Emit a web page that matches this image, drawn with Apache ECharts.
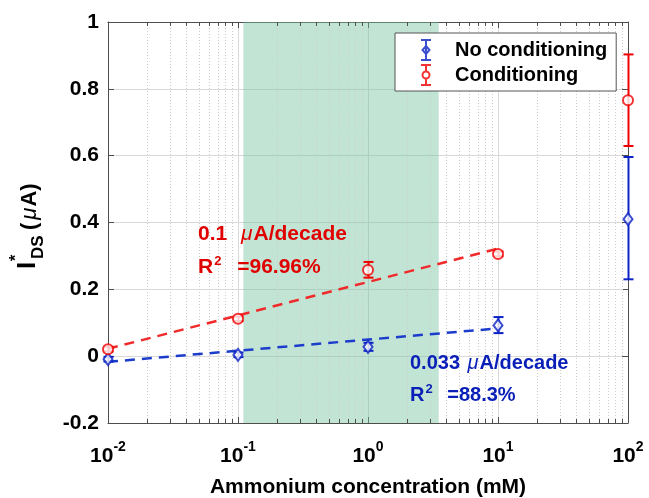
<!DOCTYPE html>
<html>
<head>
<meta charset="utf-8">
<script src="https://cdn.jsdelivr.net/npm/echarts@6/dist/echarts.min.js"></script>
<style>html,body{margin:0;padding:0;background:#fff}#c{width:649px;height:498px}</style>
</head>
<body>
<div id="c"></div>
<script>
// ---- data ----
const conc = [0.01, 0.1, 1, 10, 100];
const noCondMean = [-0.009, 0.004, 0.028, 0.092, 0.41];
const noCondLow  = [-0.016, -0.003, 0.016, 0.069, 0.23];
const noCondHigh = [-0.002, 0.011, 0.040, 0.117, 0.596];
const condMean = [0.021, 0.112, 0.258, 0.306, 0.766];
const condLow  = [0.014, 0.105, 0.235, 0.299, 0.629];
const condHigh = [0.028, 0.119, 0.282, 0.313, 0.903];
const fitX = [0.01, 10];
const condFit = [0.022, 0.322];
const noCondFit = [-0.017, 0.083];
const bandRange = [0.11, 3.5];
const minorX = [0.02,0.03,0.04,0.05,0.06,0.07,0.08,0.09,
                0.2,0.3,0.4,0.5,0.6,0.7,0.8,0.9,
                2,3,4,5,6,7,8,9,
                20,30,40,50,60,70,80,90];
const seriesNames = ['No conditioning', 'Conditioning'];
const condAnn = ['0.1 ', 'μ', 'A/decade', 'R', '2', ' =96.96%'];
const noCondAnn = ['0.033 ', 'μ', 'A/decade', 'R', '2', ' =88.3%'];
const yName = ['I', '*', 'DS', '(', 'μ', 'A)'];
const xName = 'Ammonium concentration (mM)';

const RED = '#f00000', BLUE = '#0b22c4';
const RED_T = '#e00000', BLUE_T = '#0a1fb8';
const AX = '#4d4d4d';
const FF = '"Liberation Sans", Arial, sans-serif';

const chart = echarts.init(document.getElementById('c'), null, {renderer: 'canvas'});

function errData(x, lo, hi) { return x.map((v, i) => [v, lo[i], hi[i]]); }
function errRender(color) {
  return function (params, api) {
    const p1 = api.coord([api.value(0), api.value(1)]);
    const p2 = api.coord([api.value(0), api.value(2)]);
    const x = Math.round(p1[0]) + 0.5;
    const st = {stroke: color, lineWidth: 2};
    return {type: 'group', children: [
      {type: 'line', shape: {x1: x, y1: p1[1], x2: x, y2: p2[1]}, style: st},
      {type: 'line', shape: {x1: x - 5, y1: p1[1], x2: x + 5, y2: p1[1]}, style: st},
      {type: 'line', shape: {x1: x - 5, y1: p2[1], x2: x + 5, y2: p2[1]}, style: st}
    ]};
  };
}
function annLine1(t, color, fs, muPad) {
  return {
    text: '{a|' + t[0] + '}{m|' + t[1] + '}{a|' + t[2] + '}',
    verticalAlign: 'middle', align: 'left',
    rich: {
      a: {fontSize: fs, fontWeight: 'bold', fontFamily: FF, fill: color},
      m: {fontSize: fs, fontStyle: 'italic', fontFamily: FF, fill: color, padding: [0, 1, 0, muPad]}
    }
  };
}
function annLine2(t, color, fs, supPad) {
  return {
    text: '{a|' + t[3] + '}{s|' + t[4] + '}{a|' + t[5] + '}',
    verticalAlign: 'middle', align: 'left',
    rich: {
      a: {fontSize: fs, fontWeight: 'bold', fontFamily: FF, fill: color, padding: [2, 0, 0, 0]},
      s: {fontSize: 13, fontWeight: 'bold', fontFamily: FF, fill: color, verticalAlign: 'top', padding: [0, supPad, 0, 1]}
    }
  };
}

const option = {
  animation: false,
  backgroundColor: '#fff',
  grid: {left: 108, right: 21, top: 22, bottom: 75, containLabel: false, outerBoundsMode: 'none'},
  legend: {
    left: 395, top: 33, orient: 'vertical',
    padding: [6, 9, 5, 25], itemGap: 3, itemWidth: 48, itemHeight: 20,
    backgroundColor: '#fff', borderColor: '#555', borderWidth: 1, borderRadius: 0,
    selectedMode: false,
    textStyle: {fontSize: 20, fontWeight: 'bold', color: '#000', fontFamily: FF},
    data: [
      {name: seriesNames[0],
       icon: 'path://M0,0L10,0M5,0L5,20M0,20L10,20M5,6L8.5,10L5,14L1.5,10Z',
       itemStyle: {color: 'rgba(0,0,0,0)', borderColor: BLUE, borderWidth: 2}},
      {name: seriesNames[1],
       icon: 'path://M0,0L10,0M5,0L5,6.5M5,13.5L5,20M0,20L10,20M5,6.5A3.5,3.5,0,1,1,5,13.5A3.5,3.5,0,1,1,5,6.5Z',
       itemStyle: {color: 'rgba(0,0,0,0)', borderColor: RED, borderWidth: 2}}
    ]
  },
  xAxis: [{
    type: 'log', logBase: 10, min: 0.01, max: 100, position: 'bottom',
    name: xName, nameLocation: 'middle', nameGap: 54,
    nameTextStyle: {fontSize: 21, fontWeight: 'bold', color: '#000', fontFamily: FF},
    axisLine: {show: true, onZero: false, lineStyle: {color: AX, width: 1}},
    axisTick: {show: true, inside: true, length: 6, lineStyle: {color: AX}},
    splitLine: {show: true, lineStyle: {color: '#d9d9d9', width: 1}},
    axisLabel: {
      margin: 17, color: '#000',
      formatter: function (v) {
        const e = Math.round(Math.log10(v));
        return '{b|10}{s|' + e + '}';
      },
      rich: {
        b: {fontSize: 21, fontWeight: 'bold', fontFamily: FF, color: '#000', padding: [6, 0, 0, 0]},
        s: {fontSize: 14, fontWeight: 'bold', fontFamily: FF, color: '#000', verticalAlign: 'top'}
      }
    }
  }, {
    type: 'log', logBase: 10, min: 0.01, max: 100, position: 'top',
    axisLine: {show: true, onZero: false, lineStyle: {color: AX, width: 1}},
    axisTick: {show: true, inside: true, length: 6, lineStyle: {color: AX}},
    axisLabel: {show: false}, splitLine: {show: false}
  }],
  yAxis: [{
    type: 'value', min: -0.2, max: 1, interval: 0.2, position: 'left',
    axisLine: {show: true, onZero: false, lineStyle: {color: AX, width: 1}},
    axisTick: {show: true, inside: true, length: 6, lineStyle: {color: AX}},
    splitLine: {show: true, lineStyle: {color: '#d9d9d9', width: 1}},
    axisLabel: {
      margin: 9, fontSize: 21, fontWeight: 'bold', color: '#000', fontFamily: FF,
      formatter: function (v) { return String(Math.round(v * 10) / 10); }
    }
  }, {
    type: 'value', min: -0.2, max: 1, interval: 0.2, position: 'right',
    axisLine: {show: true, onZero: false, lineStyle: {color: AX, width: 1}},
    axisTick: {show: true, inside: true, length: 6, lineStyle: {color: AX}},
    axisLabel: {show: false}, splitLine: {show: false}
  }],
  series: [
    {
      type: 'custom', name: 'minor', z: 1, silent: true,
      data: minorX.map(v => [v, 0]),
      renderItem: function (params, api) {
        const p = api.coord([api.value(0), 0]);
        const x = Math.round(p[0]) + 0.5;
        const cs = params.coordSys;
        return {type: 'group', children: [
          {type: 'line', shape: {x1: x, y1: cs.y, x2: x, y2: cs.y + cs.height},
           style: {stroke: '#cccccc', lineWidth: 1, lineDash: [1, 2]}},
          {type: 'line', shape: {x1: x, y1: cs.y + cs.height, x2: x, y2: cs.y + cs.height - 4},
           style: {stroke: AX, lineWidth: 1}},
          {type: 'line', shape: {x1: x, y1: cs.y, x2: x, y2: cs.y + 4},
           style: {stroke: AX, lineWidth: 1}}
        ]};
      },
      markArea: {
        silent: true,
        itemStyle: {color: 'rgba(120,196,160,0.45)'},
        data: [[{xAxis: bandRange[0]}, {xAxis: bandRange[1]}]]
      }
    },
    {
      type: 'line', name: 'condFit', z: 3, symbol: 'none', silent: true,
      data: fitX.map((v, i) => [v, condFit[i]]),
      lineStyle: {color: '#f02a2a', width: 2.5, type: [10, 7]}
    },
    {
      type: 'line', name: 'noCondFit', z: 3, symbol: 'none', silent: true,
      data: fitX.map((v, i) => [v, noCondFit[i]]),
      lineStyle: {color: '#1c3ccc', width: 2.5, type: [10, 7]}
    },
    {
      type: 'custom', name: 'noCondErr', z: 4, clip: false, silent: true,
      data: errData(conc, noCondLow, noCondHigh), renderItem: errRender(BLUE)
    },
    {
      type: 'custom', name: 'condErr', z: 4, clip: false, silent: true,
      data: errData(conc, condLow, condHigh), renderItem: errRender(RED)
    },
    {
      type: 'scatter', name: seriesNames[0], z: 5, clip: false,
      symbol: 'emptyDiamond', symbolSize: [9, 12],
      itemStyle: {color: BLUE, borderColor: BLUE, borderWidth: 2},
      data: conc.map((v, i) => [v, noCondMean[i]])
    },
    {
      type: 'scatter', name: seriesNames[1], z: 5, clip: false,
      symbol: 'emptyCircle', symbolSize: 10,
      itemStyle: {color: RED, borderColor: RED, borderWidth: 2},
      data: conc.map((v, i) => [v, condMean[i]])
    }
  ],
  graphic: [
    {
      type: 'group', x: 28, y: 269, rotation: Math.PI / 2,
      children: [
        {type: 'text', x: 0, y: 0, style: {text: yName[0], font: 'bold 26px ' + FF, fill: '#000', verticalAlign: 'middle', align: 'left'}},
        {type: 'text', x: 8, y: -11, style: {text: yName[1], font: 'bold 16px ' + FF, fill: '#000', verticalAlign: 'middle', align: 'left'}},
        {type: 'text', x: 10, y: 10, style: {text: yName[2], font: 'bold 17px ' + FF, fill: '#000', verticalAlign: 'middle', align: 'left'}},
        {type: 'text', x: 39, y: 2, style: {
          text: '{p|' + yName[3] + '}{m|' + yName[4] + '}{p|' + yName[5] + '}',
          verticalAlign: 'middle', align: 'left',
          rich: {
            p: {fontSize: 22, fontWeight: 'bold', fontFamily: FF, fill: '#000'},
            m: {fontSize: 22, fontStyle: 'italic', fontFamily: FF, fill: '#000', padding: [0, 1, 0, 3]}
          }
        }}
      ]
    },
    {type: 'text', x: 198, y: 234, z: 10, style: annLine1(condAnn, RED_T, 21, 8)},
    {type: 'text', x: 198, y: 266, z: 10, style: annLine2(condAnn, RED_T, 21, 10)},
    {type: 'text', x: 410, y: 363, z: 10, style: annLine1(noCondAnn, BLUE_T, 20, 2)},
    {type: 'text', x: 410, y: 394, z: 10, style: annLine2(noCondAnn, BLUE_T, 20, 9)}
  ]
};
chart.setOption(option);
</script>
</body>
</html>
